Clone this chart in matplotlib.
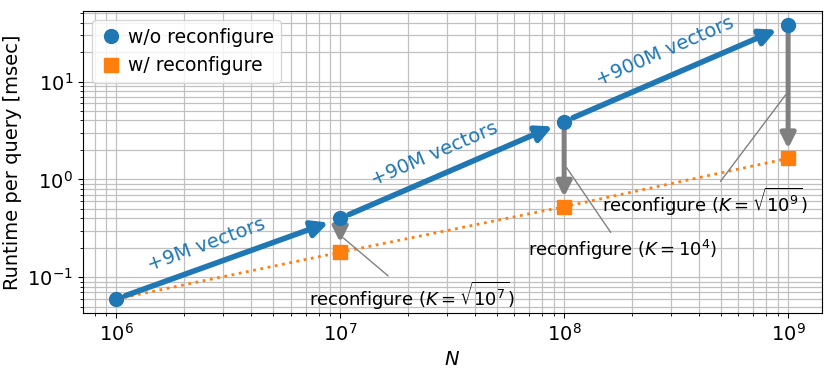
import numpy as np
import matplotlib
matplotlib.use("Agg")
import matplotlib.pyplot as plt

# data
n_vectors = [1e6, 1e7, 1e8, 1e9]
runtime_wo = [0.06, 0.40, 3.9, 38.0]
runtime_w = [0.06, 0.18, 0.526, 1.64]
step_labels = ["+9M vectors", "+90M vectors", "+900M vectors"]
reconf_labels = [r"reconfigure ($K=\sqrt{10^7}$)",
                 r"reconfigure ($K=10^4$)",
                 r"reconfigure ($K=\sqrt{10^9}$)"]

# text positions (data coords)
step_text_pos = [(2.53e6, 0.216), (2.64e7, 1.80), (2.83e8, 20.4)]
reconf_text_pos = [(2.1e7, 0.0637), (1.82e8, 0.192), (4.24e8, 0.582)]

fig = plt.figure(figsize=(8.3, 3.69), dpi=100)
ax = fig.add_axes([0.0996, 0.1526, 0.8904, 0.8174])

ax.plot(n_vectors, runtime_w, ":", color="C1", lw=2, zorder=2)
ax.plot(n_vectors, runtime_wo, "o", color="C0", ms=10, zorder=4,
        label="w/o reconfigure")
ax.plot(n_vectors[1:], runtime_w[1:], "s", color="C1", ms=10, zorder=4,
        label="w/ reconfigure")

# blue arrows between scales
for i in range(3):
    ax.annotate("", xy=(n_vectors[i + 1], runtime_wo[i + 1]),
                xytext=(n_vectors[i], runtime_wo[i]),
                arrowprops=dict(arrowstyle="-|>", color="C0", lw=4,
                                mutation_scale=24, shrinkA=7, shrinkB=9),
                zorder=3)
    ax.text(step_text_pos[i][0], step_text_pos[i][1], step_labels[i],
            color="C0", fontsize=14, ha="center", va="center",
            rotation=[20, 23.3, 23.5][i], rotation_mode="anchor")

# gray arrows + annotations
for i in range(1, 4):
    ax.annotate("", xy=(n_vectors[i], runtime_w[i]),
                xytext=(n_vectors[i], runtime_wo[i]),
                arrowprops=dict(arrowstyle="-|>", color="gray", lw=3.6,
                                mutation_scale=22, shrinkA=6, shrinkB=7),
                zorder=3)
    mid = np.sqrt(runtime_wo[i] * runtime_w[i])
    ax.annotate(reconf_labels[i - 1], xy=(n_vectors[i], mid),
                xytext=reconf_text_pos[i - 1], fontsize=13,
                ha="center", va="center",
                arrowprops=dict(arrowstyle="-", color="gray", lw=1,
                                shrinkB=3))

ax.set_xscale("log")
ax.set_yscale("log")
ax.grid(True, which="both", color="#c0c0c0", lw=0.9)
ax.set_axisbelow(True)
ax.tick_params(labelsize=14)
ax.set_xlabel("$N$", fontsize=14)
ax.set_ylabel("Runtime per query [msec]", fontsize=14)
ax.legend(loc="upper left", fontsize=13.5, handletextpad=0.3,
          handlelength=1.2)

fig.savefig("out.png", dpi=100)
